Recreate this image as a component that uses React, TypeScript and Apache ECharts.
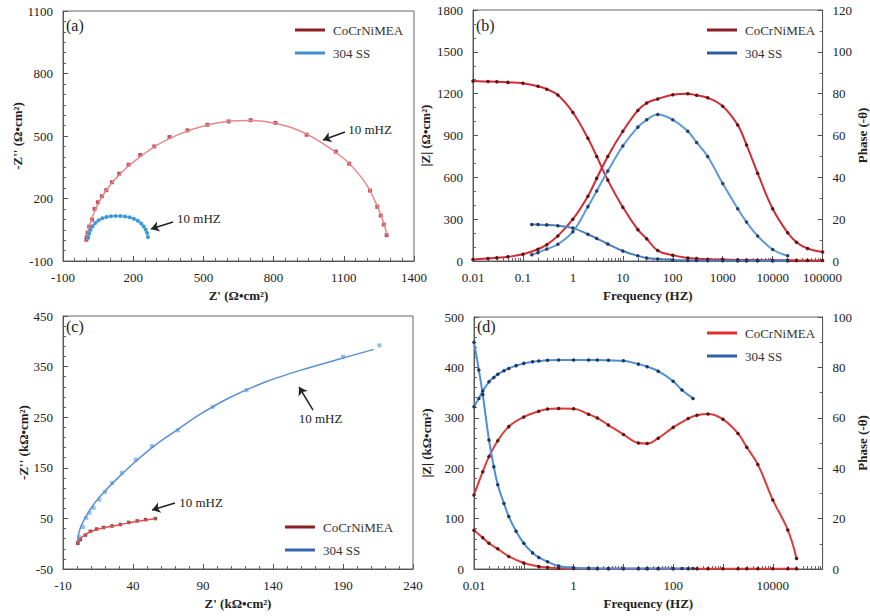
import React, { useEffect, useRef } from 'react';
import * as echarts from 'echarts';

const FONT = 'Liberation Serif';
const NAMES = ['CoCrNiMEA', '304 SS'];

// ---------- Panel (a): Nyquist, Ω·cm² ----------
const aXTicks = [-100, 200, 500, 800, 1100, 1400];
const aYTicks = [-100, 200, 500, 800, 1100];
const aMeaRe = [0, 2, 5, 12, 24, 35, 49, 66, 85, 109, 140, 180, 230, 290, 355, 432, 517, 608, 702, 808, 941, 1066, 1123, 1212, 1243, 1258, 1271, 1283];
const aMeaIm = [2, 15, 36, 65, 99, 150, 182, 211, 240, 278, 319, 362, 409, 450, 495, 527, 554, 570, 576, 563, 506, 425, 367, 238, 160, 118, 75, 24];
const aMeaFitRe = [0, 10, 30, 60, 100, 150, 200, 300, 400, 500, 600, 700, 800, 900, 1000, 1100, 1150, 1200, 1240, 1265, 1285];
const aMeaFitIm = [0, 55, 125, 195, 262, 325, 375, 455, 510, 548, 570, 575, 562, 530, 472, 392, 335, 262, 172, 100, 25];
const a304Re = [8, 12, 18, 27, 38, 52, 68, 86, 105, 125, 145, 165, 185, 203, 220, 234, 245, 253, 259, 263];
const a304Im = [12, 32, 50, 67, 82, 95, 105, 111, 115, 116, 116, 114, 110, 103, 93, 80, 66, 51, 35, 15];
const aArrowMea = [[1105, 519], [1011, 481]];
const aTextMea = [1212, 529];
const aArrow304 = [[370, 87], [276, 54]];
const aText304 = [481, 102];

// ---------- Panel (b): Bode, Ω·cm² ----------
const bZTicks = [0, 300, 600, 900, 1200, 1500, 1800];
const bPhaseTicks = [0, 20, 40, 60, 80, 100, 120];
const bMeaFreq = [0.01, 0.02, 0.03, 0.05, 0.1, 0.2, 0.3, 0.5, 1, 2, 3, 5, 10, 20, 30, 50, 100, 200, 300, 500, 1000, 2000, 3000, 5000, 10000, 20000, 30000, 50000, 100000];
const bMeaZ = [1290, 1287, 1285, 1281, 1274, 1253, 1232, 1190, 1065, 880, 750, 580, 385, 225, 160, 75, 42, 22, 17, 13, 10, 8, 7, 6, 5, 5, 4, 4, 4];
const bMeaPhase = [0.7, 1.2, 1.5, 2, 3.2, 5.6, 7.8, 12, 20, 31, 39.5, 50, 62, 72, 75.5, 77.5, 79.5, 80, 79.2, 78, 74, 65, 55.5, 42, 25, 13.5, 9, 6, 4.3];
const b304Freq = [0.15, 0.2, 0.3, 0.5, 1, 2, 3, 5, 10, 20, 30, 50, 100, 200, 300, 500, 1000, 2000, 3000, 5000, 10000, 20000];
const b304Z = [262, 261, 259, 253, 236, 192, 162, 122, 72, 37, 22, 14, 7, 4, 3, 2, 1.5, 1, 1, 1, 1, 1];
const b304Phase = [3, 4, 5.7, 8, 14, 26, 33.5, 43, 55, 64, 67.5, 70, 67.5, 62, 56.7, 50, 37, 25, 18.6, 12, 5.5, 2.5];

// ---------- Panel (c): Nyquist, kΩ·cm² ----------
const cXTicks = [-10, 40, 90, 140, 190, 240];
const cYTicks = [-50, 50, 150, 250, 350, 450];
const cMeaRe = [0.5, 2.4, 6, 9.5, 14, 19, 25, 31, 37, 43, 49, 56];
const cMeaIm = [1, 8, 17, 24.5, 29, 32, 35, 38, 42, 45, 47.6, 49.6];
const cMeaFitRe = [0, 1, 3, 6, 10, 15, 20, 30, 40, 50, 56.5];
const cMeaFitIm = [-3, 5, 12, 18, 24, 29, 32, 37, 43, 47, 49.5];
const c304Re = [0.5, 1.4, 4.3, 6.6, 9, 11.9, 16, 20, 25, 32, 42, 53.5, 72, 97, 121, 190, 216];
const c304Im = [1.5, 13, 33, 51, 61, 70.7, 87, 102, 120, 140, 166, 193, 224, 270.6, 303.6, 369.5, 392];
const c304FitRe = [0, 2, 6, 12, 20, 30, 42, 55, 70, 88, 110, 135, 160, 185, 212];
const c304FitIm = [-3, 28, 52, 78, 104, 132, 163, 193, 222, 256, 290, 320, 343, 363, 384];
const cArrow304 = [[168.6, 264], [158.6, 309.7]];
const cText304 = [174, 248];
const cArrowMea = [[70, 80.4], [53.6, 66.6]];
const cTextMea = [88.6, 82.4];

// ---------- Panel (d): Bode, kΩ·cm² ----------
const dZTicks = [0, 100, 200, 300, 400, 500];
const dPhaseTicks = [0, 20, 40, 60, 80, 100];
const dMeaFreq = [0.01, 0.015, 0.02, 0.03, 0.05, 0.1, 0.2, 0.3, 0.5, 1, 2, 3, 5, 10, 20, 30, 50, 100, 200, 300, 500, 1000, 2000, 3000, 5000, 10000, 20000, 30000];
const dMeaZ = [77, 62, 51, 40, 25, 12, 5, 3, 1.5, 1, 0.8, 0.7, 0.6, 0.5, 0.5, 0.5, 0.5, 0.5, 0.4, 0.4, 0.4, 0.4, 0.4, 0.3, 0.3, 0.3, 0.3, 0.3];
const dMeaPhase = [29.4, 38.6, 44.6, 50.9, 56.5, 60.3, 62.6, 63.5, 63.7, 63.6, 61.4, 59.9, 57.1, 53.4, 50, 49.8, 51.9, 56.2, 59.7, 61, 61.5, 59.4, 53.8, 48.3, 41.5, 27.4, 15.5, 4.2];
const d304Freq = [0.01, 0.0125, 0.015, 0.02, 0.025, 0.03, 0.04, 0.05, 0.07, 0.1, 0.15, 0.2, 0.3, 0.5, 1, 2, 3, 5, 10, 20, 30, 50, 100, 150, 250];
const d304Z = [450, 395, 346, 256, 203, 167, 130, 104, 75, 51, 32, 23, 14.5, 6, 2.5, 1.5, 1.2, 1, 1, 1, 1, 1, 1, 1, 1];
const d304Phase = [64.4, 67.7, 70.6, 74.3, 76, 77.3, 78.7, 79.6, 80.7, 81.6, 82.2, 82.5, 82.8, 82.9, 82.9, 82.9, 82.9, 82.8, 82.6, 81.3, 80.3, 78.5, 74.5, 71, 67.7];

const FREQ_MIN = 0.01;
const FREQ_MAX = 100000;

const zip = (a: number[], b: number[]) => a.map((v, i) => [v, b[i]]);

const axisCommon = (minorSplit: number) => ({
  axisLine: { show: true, onZero: false, lineStyle: { color: '#555', width: 1 } },
  axisTick: { show: true, inside: true, length: 5, lineStyle: { color: '#555' } },
  minorTick: { show: minorSplit > 0, splitNumber: minorSplit || 5, length: 3, lineStyle: { color: '#666' } },
  splitLine: { show: false },
  nameLocation: 'middle' as const,
  nameTextStyle: { color: '#222', fontSize: 13, fontWeight: 'bold' as const, fontFamily: FONT },
});

const linAxis = (gridIndex: number, ticks: number[], name: string, nameGap: number, minor: number, extra: any = {}) => ({
  ...axisCommon(minor),
  type: 'value',
  gridIndex,
  min: ticks[0],
  max: ticks[ticks.length - 1],
  interval: ticks[1] - ticks[0],
  name,
  nameGap,
  axisLabel: { color: '#222', fontSize: 13, fontFamily: FONT, margin: 10, formatter: (v: number) => String(v) },
  ...extra,
});

const fmtFreq = (every: number) => (v: number) => {
  const e = Math.round(Math.log10(v));
  if (e % every !== 0) return '';
  return String(Number(v.toPrecision(6)));
};

const logAxis = (gridIndex: number, every: number) => ({
  ...axisCommon(9),
  type: 'log',
  logBase: 10,
  gridIndex,
  min: FREQ_MIN,
  max: FREQ_MAX,
  name: 'Frequency (HZ)',
  nameGap: 28,
  axisLabel: { color: '#222', fontSize: 13, fontFamily: FONT, margin: 10, formatter: fmtFreq(every) },
});

const arrowLine = (from: number[], to: number[]) => ({
  silent: true,
  symbol: ['none', 'arrow'],
  symbolSize: 8,
  lineStyle: { color: '#222', width: 1.5, type: 'solid' },
  label: { show: false },
  data: [[{ coord: from }, { coord: to }]],
});

const textPoint = (at: number[]) => ({
  silent: true,
  symbol: 'rect',
  symbolSize: 0,
  itemStyle: { color: 'rgba(0,0,0,0)' },
  label: { show: true, position: 'inside', formatter: '10 mHZ', color: '#222', fontSize: 13, fontFamily: FONT },
  data: [{ coord: at }],
});

const mkLegend = (left: number, top: number, c1: string, c2: string) => ({
  left,
  top,
  orient: 'vertical',
  icon: 'rect',
  itemWidth: 30,
  itemHeight: 3,
  itemGap: 7,
  selectedMode: false,
  textStyle: { fontFamily: FONT, fontSize: 13, color: '#333', lineHeight: 16, padding: [0, 0, 0, 3] },
  data: [
    { name: NAMES[0], itemStyle: { color: c1 } },
    { name: NAMES[1], itemStyle: { color: c2 } },
  ],
});

const bodeLine = (name: string, x: number, y: number, data: number[][], line: string, dot: string) => ({
  type: 'line',
  name,
  xAxisIndex: x,
  yAxisIndex: y,
  data,
  smooth: 0.4,
  symbol: 'circle',
  symbolSize: 3.5,
  showSymbol: true,
  lineStyle: { color: line, width: 2 },
  itemStyle: { color: dot, borderWidth: 0 },
});

const panelLabel = (text: string, left: number, top: number) => ({
  type: 'text',
  left,
  top,
  style: { text, fill: '#222', fontSize: 16, fontFamily: FONT },
});

export default function App() {
  const ref = useRef<HTMLDivElement>(null);
  useEffect(() => {
    if (!ref.current) return;
    const chart = echarts.init(ref.current, undefined, { renderer: 'svg' });
    const RED = '#d42a35';
    const REDDOT = '#5a1515';
    const option: any = {
      animation: false,
      backgroundColor: '#fff',
      textStyle: { fontFamily: FONT },
      grid: [
        { left: 63, top: 11, width: 351, height: 250, show: true, borderColor: '#666', borderWidth: 1, backgroundColor: 'transparent' },
        { left: 473, top: 10, width: 350, height: 251, show: true, borderColor: '#666', borderWidth: 1, backgroundColor: 'transparent' },
        { left: 63, top: 316, width: 350, height: 253, show: true, borderColor: '#666', borderWidth: 1, backgroundColor: 'transparent' },
        { left: 474, top: 317, width: 349, height: 252, show: true, borderColor: '#666', borderWidth: 1, backgroundColor: 'transparent' },
      ],
      xAxis: [
        linAxis(0, aXTicks, "Z' (Ω•cm²)", 28, 6),
        logAxis(1, 1),
        linAxis(2, cXTicks, "Z' (kΩ•cm²)", 28, 5),
        logAxis(3, 2),
      ],
      yAxis: [
        linAxis(0, aYTicks, "-Z'' (Ω•cm²)", 31, 6),
        linAxis(1, bZTicks, '|Z| (Ω•cm²)', 41, 3),
        linAxis(1, bPhaseTicks, 'Phase (-θ)', 32, 2, { position: 'right', nameRotate: 90 }),
        linAxis(2, cYTicks, "-Z'' (kΩ•cm²)", 31, 5),
        linAxis(3, dZTicks, '|Z| (kΩ•cm²)', 41, 5),
        linAxis(3, dPhaseTicks, 'Phase (-θ)', 32, 2, { position: 'right', nameRotate: 90 }),
      ],
      legend: [
        mkLegend(290, 17, '#8b1f22', '#3d8fd0'),
        mkLegend(702, 17, '#8b1f22', '#2f5f9a'),
        mkLegend(280, 514, '#8b1f22', '#3464b4'),
        mkLegend(702, 320, '#e02c2c', '#3060b0'),
      ],
      graphic: [
        panelLabel('(a)', 66, 17),
        panelLabel('(b)', 476, 17),
        panelLabel('(c)', 66, 318),
        panelLabel('(d)', 477, 318),
      ],
      series: [
        // (a)
        {
          type: 'line', name: NAMES[0], xAxisIndex: 0, yAxisIndex: 0,
          data: zip(aMeaFitRe, aMeaFitIm), smooth: 0.3, showSymbol: false,
          lineStyle: { color: '#e58a8a', width: 1.5 }, itemStyle: { color: '#e58a8a' },
          markLine: arrowLine(aArrowMea[0], aArrowMea[1]),
          markPoint: textPoint(aTextMea),
        },
        {
          type: 'scatter', name: NAMES[0], xAxisIndex: 0, yAxisIndex: 0,
          data: zip(aMeaRe, aMeaIm), symbol: 'rect', symbolSize: 4,
          itemStyle: { color: '#b02535' },
        },
        {
          type: 'line', name: NAMES[1], xAxisIndex: 0, yAxisIndex: 0,
          data: zip(a304Re, a304Im), smooth: 0.3, symbol: 'circle', symbolSize: 4, showSymbol: true,
          lineStyle: { color: '#62b4ea', width: 2 }, itemStyle: { color: '#3d9ad8', borderWidth: 0 },
          markLine: arrowLine(aArrow304[0], aArrow304[1]),
          markPoint: textPoint(aText304),
        },
        // (b)
        bodeLine(NAMES[0], 1, 1, zip(bMeaFreq, bMeaZ), RED, REDDOT),
        bodeLine(NAMES[0], 1, 2, zip(bMeaFreq, bMeaPhase), RED, REDDOT),
        bodeLine(NAMES[1], 1, 1, zip(b304Freq, b304Z), '#4a7fc0', '#253a60'),
        bodeLine(NAMES[1], 1, 2, zip(b304Freq, b304Phase), '#5b9ad5', '#2a3f6a'),
        // (c)
        {
          type: 'line', name: NAMES[1], xAxisIndex: 2, yAxisIndex: 3,
          data: zip(c304FitRe, c304FitIm), smooth: 0.3, showSymbol: false,
          lineStyle: { color: '#5a8fd0', width: 1.5 }, itemStyle: { color: '#5a8fd0' },
          markLine: arrowLine(cArrow304[0], cArrow304[1]),
          markPoint: textPoint(cText304),
        },
        {
          type: 'scatter', name: NAMES[1], xAxisIndex: 2, yAxisIndex: 3,
          data: zip(c304Re, c304Im), symbol: 'rect', symbolSize: 4,
          itemStyle: { color: '#7ab0e0' },
        },
        {
          type: 'line', name: NAMES[0], xAxisIndex: 2, yAxisIndex: 3,
          data: zip(cMeaFitRe, cMeaFitIm), smooth: 0.3, showSymbol: false,
          lineStyle: { color: '#e05050', width: 1.5 }, itemStyle: { color: '#e05050' },
          markLine: arrowLine(cArrowMea[0], cArrowMea[1]),
          markPoint: textPoint(cTextMea),
        },
        {
          type: 'scatter', name: NAMES[0], xAxisIndex: 2, yAxisIndex: 3,
          data: zip(cMeaRe, cMeaIm), symbol: 'rect', symbolSize: 3.5,
          itemStyle: { color: '#7a1a1a' },
        },
        // (d)
        bodeLine(NAMES[0], 3, 4, zip(dMeaFreq, dMeaZ), '#e03a3a', REDDOT),
        bodeLine(NAMES[0], 3, 5, zip(dMeaFreq, dMeaPhase), '#e03a3a', REDDOT),
        bodeLine(NAMES[1], 3, 4, zip(d304Freq, d304Z), '#4a90d8', '#22385e'),
        bodeLine(NAMES[1], 3, 5, zip(d304Freq, d304Phase), '#4a90d8', '#22385e'),
      ],
    };
    chart.setOption(option);
    return () => chart.dispose();
  }, []);
  return (
    <div
      ref={ref}
      style={{ position: 'fixed', left: 0, top: 0, width: 870, height: 616, background: '#fff' }}
    />
  );
}
